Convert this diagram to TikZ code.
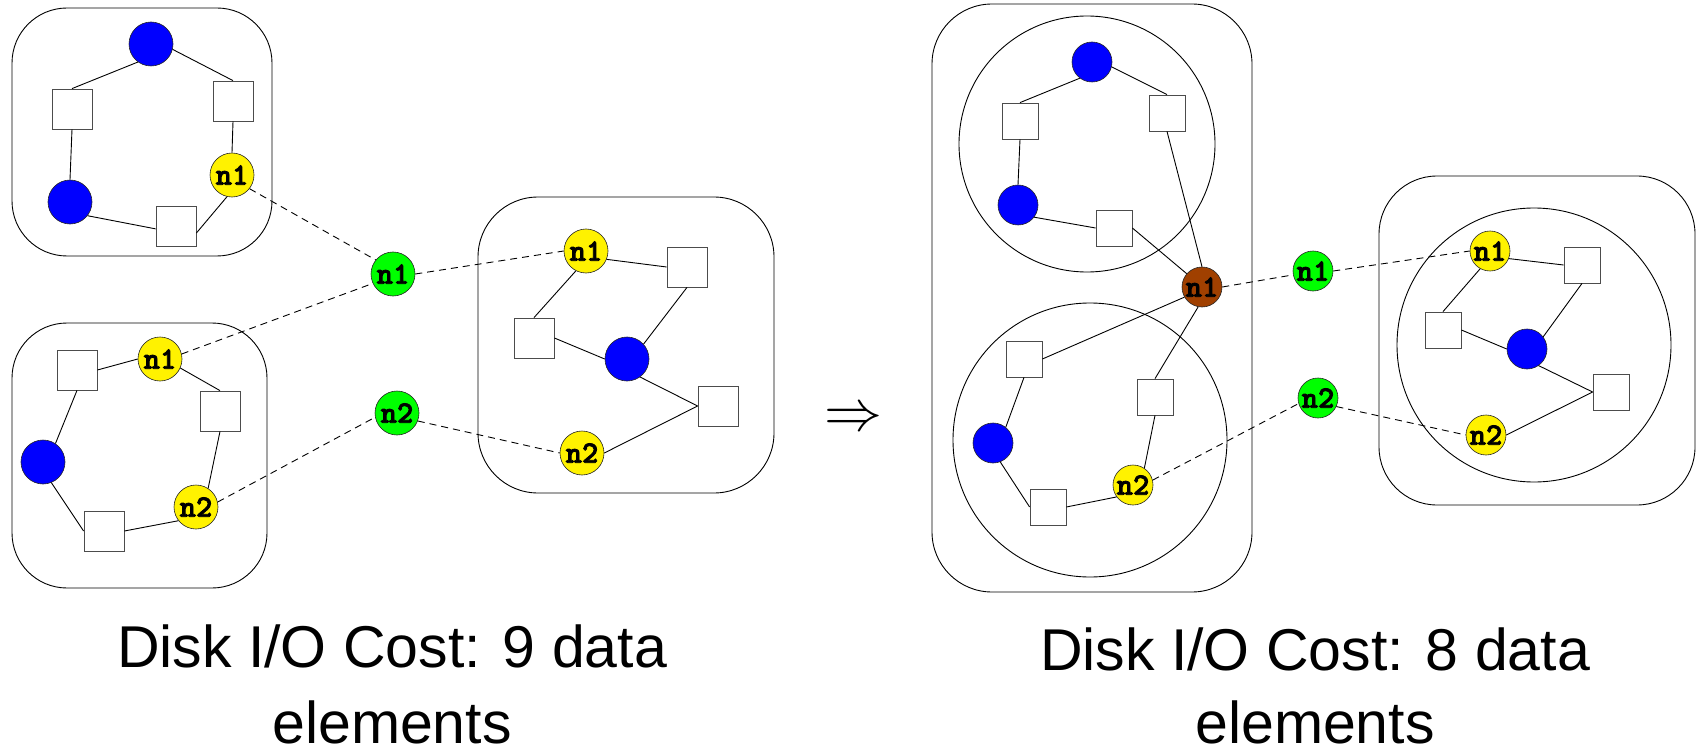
\documentclass[tikz,border=0pt]{standalone}
\usepackage{fontspec}
\setmainfont{Liberation Sans}
\newfontfamily\labfont{lmmonolt10-bold.otf}[FakeBold=2.5]
\definecolor{brownN}{RGB}{160,64,0}
\begin{document}
\begin{tikzpicture}[x=1pt,y=-1pt,
  rbox/.style={draw=black, line width=0.9pt, rounded corners=#1},
  ringc/.style={draw=black, line width=0.9pt},
  lnk/.style={line width=0.9pt},
  dsh/.style={line width=0.9pt, dash pattern=on 7pt off 5pt},
  vtx/.style={circle, draw=black!85, line width=0.6pt, inner sep=0pt, minimum size=#1,
     font=\labfont\fontsize{31}{31}\selectfont},
  bluA/.style={vtx=44pt, fill=blue},
  yelA/.style={vtx=44pt, fill=yellow},
  grnA/.style={vtx=44pt, fill=green},
  bluB/.style={vtx=40pt, fill=blue},
  yelB/.style={vtx=40pt, fill=yellow},
  grnB/.style={vtx=40pt, fill=green},
  brnB/.style={vtx=40pt, fill=brownN},
  sqA/.style={rectangle, draw=black!70, line width=0.8pt, fill=white, inner sep=0pt, minimum size=40pt},
  sqB/.style={rectangle, draw=black!70, line width=0.8pt, fill=white, inner sep=0pt, minimum size=36pt},
  captxt/.style={anchor=base, inner sep=0pt, font=\fontsize{59}{70}\selectfont}
]
\useasboundingbox (0,0) rectangle (1700,754);

% containers
\draw[rbox=55pt] (12,8) rectangle (272,256);
\draw[rbox=55pt] (12,323) rectangle (267,588);
\draw[rbox=60pt] (478,197) rectangle (774,493);
\draw[rbox=60pt] (932,4) rectangle (1252,592);
\draw[ringc] (1087,144) circle[radius=128];
\draw[ringc] (1090,440) circle[radius=137];
\draw[rbox=58pt] (1379,176) rectangle (1695,505);
\draw[ringc] (1534,345) circle[radius=137];

% component A (top left)
\node[bluA] (Ab1) at (151,44) {};
\node[sqA]  (As1) at (72,109) {};
\node[sqA]  (As2) at (233,101) {};
\node[yelA] (An1) at (232,175) {n1};
\node[bluA] (Ab2) at (70,202) {};
\node[sqA]  (As3) at (176,226) {};

% component B (bottom left)
\node[sqA]  (Bs1) at (77,370) {};
\node[yelA] (Bn1) at (160,359) {n1};
\node[sqA]  (Bs2) at (220,411) {};
\node[bluA] (Bb)  at (43,462) {};
\node[sqA]  (Bs3) at (104,531) {};
\node[yelA] (Bn2) at (196,507) {n2};

% greens left
\node[grnA] (Gn1) at (393,274) {n1};
\node[grnA] (Gn2) at (397,413) {n2};

% component C (middle)
\node[yelA] (Cn1) at (586,251) {n1};
\node[sqA]  (Cs1) at (687,267) {};
\node[sqA]  (Cs2) at (534,338) {};
\node[bluA] (Cb)  at (627,359) {};
\node[sqA]  (Cs3) at (718,406) {};
\node[yelA] (Cn2) at (582,453) {n2};

% component D (big right, upper)
\node[bluB] (Db1) at (1092,62) {};
\node[sqB]  (Ds1) at (1020,121) {};
\node[sqB]  (Ds2) at (1167,113) {};
\node[bluB] (Db2) at (1018,205) {};
\node[sqB]  (Ds3) at (1114,228) {};
\node[brnB] (Dn1) at (1202,287) {n1};

% component E (big right, lower)
\node[sqB]  (Es1) at (1024,359) {};
\node[sqB]  (Es2) at (1155,397) {};
\node[bluB] (Eb)  at (993,443) {};
\node[sqB]  (Es3) at (1048,507) {};
\node[yelB] (En2) at (1133,485) {n2};

% greens right
\node[grnB] (Hn1) at (1313,271) {n1};
\node[grnB] (Hn2) at (1318,398) {n2};

% component F (far right)
\node[yelB] (Fn1) at (1490,251) {n1};
\node[sqB]  (Fs1) at (1582,265) {};
\node[sqB]  (Fs2) at (1443,330) {};
\node[bluB] (Fb)  at (1527,349) {};
\node[sqB]  (Fs3) at (1611,392) {};
\node[yelB] (Fn2) at (1486,435) {n2};

% edges A
\draw[lnk] (Ab1.234) -- (As1.north);
\draw[lnk] (Ab1.346) -- (As2.north);
\draw[lnk] (As1.south) -- (Ab2.north);
\draw[lnk] (Ab2.322) -- (As3.188);
\draw[lnk] (As3.341) -- (An1.257);
\draw[lnk] (An1.north) -- (As2.south);
% edges B
\draw[lnk] (Bs1.east) -- (Bn1.west);
\draw[lnk] (Bn1.336) -- (Bs2.north);
\draw[lnk] (Bs2.south) -- (Bn2.57);
\draw[lnk] (Bn2.218) -- (Bs3.east);
\draw[lnk] (Bs3.west) -- (Bb.292);
\draw[lnk] (Bb.56) -- (Bs1.south);
% edges C
\draw[lnk] (Cn1.338) -- (Cs1.west);
\draw[lnk] (Cn1.243) -- (Cs2.north);
\draw[lnk] (Cs2.east) -- (Cb.west);
\draw[lnk] (Cb.42) -- (Cs1.south);
\draw[lnk] (Cb.306) -- (Cs3.west);
\draw[lnk] (Cs3.west) -- (Cn2.east);
% edges D
\draw[lnk] (Db1.233) -- (Ds1.north);
\draw[lnk] (Db1.346) -- (Ds2.north);
\draw[lnk] (Ds1.south) -- (Db2.north);
\draw[lnk] (Db2.323) -- (Ds3.west);
\draw[lnk] (Ds3.east) -- (Dn1.139);
\draw[lnk] (Ds2.south) -- (Dn1.north);
% edges E
\draw[lnk] (Dn1.210) -- (Es1.east);
\draw[lnk] (Dn1.259) -- (Es2.north);
\draw[lnk] (Es1.south) -- (Eb.51);
\draw[lnk] (Eb.291) -- (Es3.west);
\draw[lnk] (Es3.east) -- (En2.216);
\draw[lnk] (En2.56) -- (Es2.south);
% edges F
\draw[lnk] (Fn1.338) -- (Fs1.west);
\draw[lnk] (Fn1.241) -- (Fs2.north);
\draw[lnk] (Fs2.east) -- (Fb.west);
\draw[lnk] (Fb.37) -- (Fs1.south);
\draw[lnk] (Fb.305) -- (Fs3.west);
\draw[lnk] (Fs3.west) -- (Fn2.east);

% dashed links
\draw[dsh] (An1.322) -- (Gn1.141);
\draw[dsh] (Bn1.13) -- (Gn1.205);
\draw[dsh] (Bn2.13) -- (Gn2.191);
\draw[dsh] (Gn1.east) -- (Cn1.west);
\draw[dsh] (Gn2.339) -- (Cn2.west);
\draw[dsh] (Dn1.east) -- (Hn1.191);
\draw[dsh] (En2.14) -- (Hn2.196);
\draw[dsh] (Hn1.east) -- (Fn1.west);
\draw[dsh] (Hn2.335) -- (Fn2.west);

% arrow and captions
\node[scale=5.8, inner sep=0pt] (arr) at (853,420) {$\Rightarrow$};
\node[captxt] (t1) at (392,667) {Disk I/O Cost: 9 data};
\node[captxt] (t2) at (392,743) {elements};
\node[captxt] (t3) at (1315,670) {Disk I/O Cost: 8 data};
\node[captxt] (t4) at (1315,743) {elements};
\end{tikzpicture}
\end{document}
